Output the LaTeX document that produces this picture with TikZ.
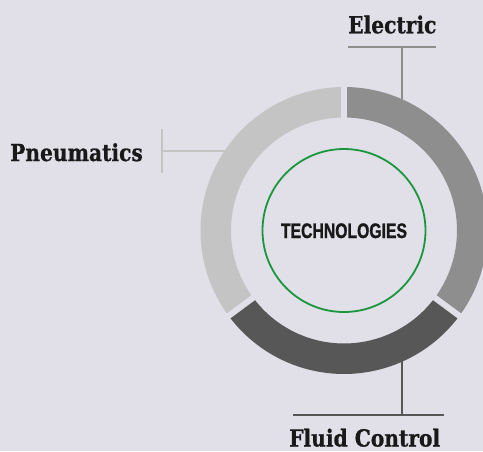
\documentclass[tikz,border=0pt]{standalone}
\usepackage{fontspec}
\usetikzlibrary{calc}
\newfontfamily\slabfont[FakeStretch=0.86,FakeBold=0.8]{DejaVu Serif Bold}
\newfontfamily\condfont[FakeStretch=0.75,FakeBold=1.2]{Liberation Sans Bold}
\definecolor{bgcol}{RGB}{225,224,233}
\definecolor{lightseg}{RGB}{196,196,196}
\definecolor{midseg}{RGB}{142,142,142}
\definecolor{darkseg}{RGB}{87,87,87}
\definecolor{ringgreen}{RGB}{26,150,60}
\begin{document}
\begin{tikzpicture}[x=1pt,y=1pt,
  label text/.style={inner sep=0pt,anchor=base west,text=black!90,font=\slabfont\fontsize{23.5}{28}\selectfont},
  seg/.style={line width=30.5pt},
  gapline/.style={draw=bgcol,line width=6pt},
  leader/.style={line width=2pt}]
\useasboundingbox[fill=bgcol] (0,0) rectangle (483,-451);
\coordinate (c) at (344,-230.5);
% leader lines
\coordinate (eL) at (348,-46.5);
\coordinate (eR) at (436,-46.5);
\coordinate (eTop) at (402,-46.5);
\coordinate (eRing) at (402,-105);
\draw[leader,draw=midseg] (eL) -- (eR);
\draw[leader,draw=midseg] (eTop) -- (eRing);
\coordinate (pT) at (162,-129);
\coordinate (pB) at (162,-173);
\coordinate (pMid) at (162,-151);
\coordinate (pRing) at (230,-151);
\draw[leader,draw=lightseg] (pT) -- (pB);
\draw[leader,draw=lightseg] (pMid) -- (pRing);
\coordinate (fL) at (293,-415);
\coordinate (fR) at (444,-415);
\coordinate (fBot) at (402,-415);
\coordinate (fRing) at (402,-356);
\draw[leader,draw=darkseg] (fL) -- (fR);
\draw[leader,draw=darkseg] (fBot) -- (fRing);
% ring segments
\draw[seg,draw=midseg] ($(c)+(90:128.25)$) arc[start angle=90,end angle=-36.5,radius=128.25];
\draw[seg,draw=darkseg] ($(c)+(-36.5:128.25)$) arc[start angle=-36.5,end angle=-143.5,radius=128.25];
\draw[seg,draw=lightseg] ($(c)+(-143.5:128.25)$) arc[start angle=-143.5,end angle=-270,radius=128.25];
% gaps
\draw[gapline] ($(c)+(90:105)$) -- ($(c)+(90:150)$);
\draw[gapline] ($(c)+(-36.5:105)$) -- ($(c)+(-36.5:150)$);
\draw[gapline] ($(c)+(-143.5:105)$) -- ($(c)+(-143.5:150)$);
% centre
\draw[draw=ringgreen,line width=1.8pt] (c) circle[radius=81.5];
\node (tech) [inner sep=0pt,anchor=base,text=black!90,font=\condfont\fontsize{21}{24}\selectfont] at (344,-238) {TECHNOLOGIES};
% labels
\node (electric) [label text] at (348,-33.3) {Electric};
\node (pneu) [label text] at (10,-161) {Pneumatics};
\node (fluid) [label text] at (289,-446.5) {Fluid Control};
\end{tikzpicture}
\end{document}
